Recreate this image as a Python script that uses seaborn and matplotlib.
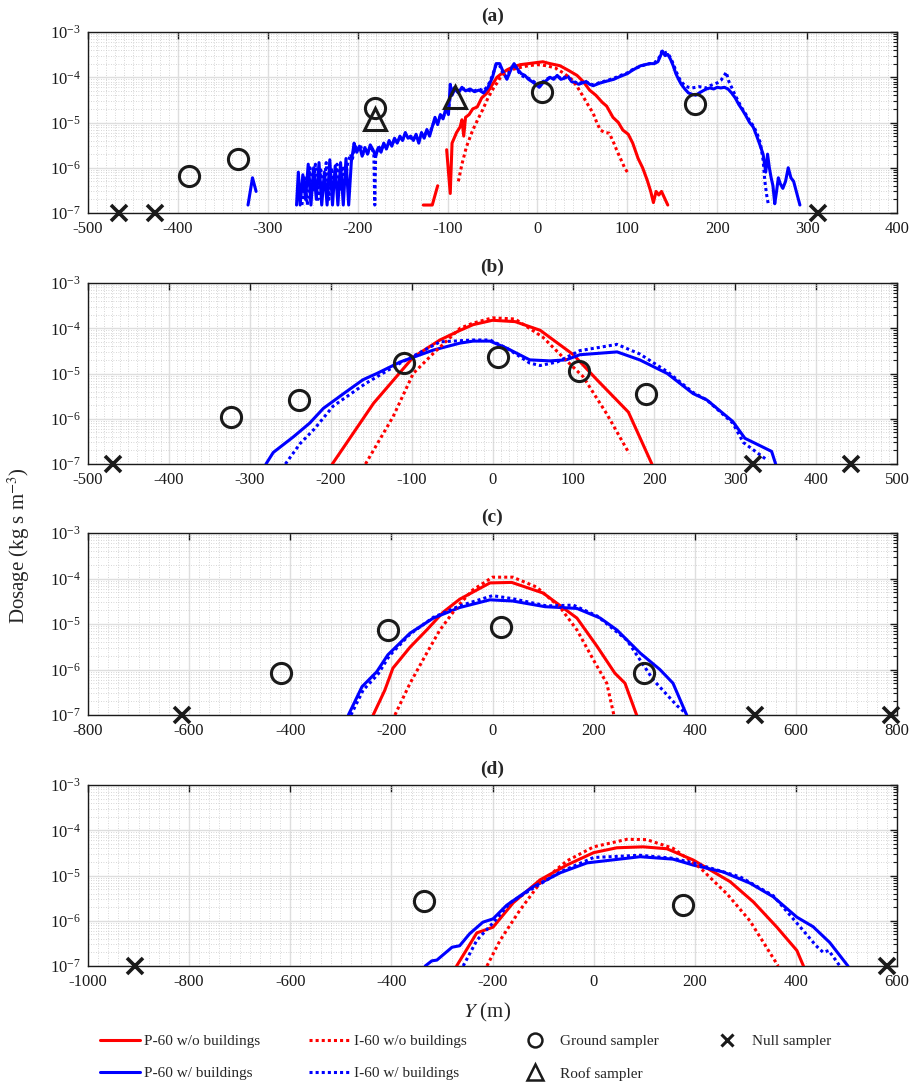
import numpy as np
import pandas as pd
import matplotlib
matplotlib.use("Agg")
import matplotlib.pyplot as plt
import seaborn as sns
from matplotlib.ticker import LogLocator, LogFormatterMathtext, MultipleLocator, NullFormatter
from matplotlib.lines import Line2D

sns.set_theme(style="white")
plt.rcParams["font.family"] = ["Liberation Serif", "DejaVu Serif"]
plt.rcParams["mathtext.fontset"] = "stix"
plt.rcParams["axes.unicode_minus"] = False

NAN = np.nan
SERIES = ["P-60 w/o buildings", "P-60 w/ buildings", "I-60 w/o buildings", "I-60 w/ buildings"]
COLORS = {"P-60 w/o buildings": "#ff0000", "I-60 w/o buildings": "#ff0000",
          "P-60 w/ buildings": "#0000ff", "I-60 w/ buildings": "#0000ff"}
DASHES = {"P-60 w/o buildings": "", "P-60 w/ buildings": "",
          "I-60 w/o buildings": (1, 1), "I-60 w/ buildings": (1, 1)}

# ---------------- Panel (a) ----------------
A_P60_WO_X = [-127, -117, -111, NAN, -101, -97, -95, -90, -86, -84, -82, -80, -76, -72, -67, -62, -56, -50, -45, -40,
              -34, -27, -19, -10, -2, 6, 14, 25, 35, 44, 51, 58, 65, 72, 77, 84, 90, 95, 101, 106, 112, 117, 122,
              126, 129, 132, 135, 138, 145]
A_P60_WO_D = [1.5e-7, 1.5e-7, 4e-7, NAN, 2.5e-6, 2.7e-7, 3.5e-6, 6e-6, 8e-6, 1.15e-5, 5e-6, 1.3e-5, 1.5e-5, 2e-5,
              2.2e-5, 3.5e-5, 4.5e-5, 7e-5, 1e-4, 1.2e-4, 1.45e-4, 1.7e-4, 1.9e-4, 2e-4, 2.1e-4, 2.2e-4, 2e-4, 1.8e-4,
              1.4e-4, 1.1e-4, 8e-5, 5.2e-5, 4e-5, 2.8e-5, 2.3e-5, 1.3e-5, 1e-5, 6.8e-6, 5.5e-6, 3.5e-6, 1.6e-6, 1e-6,
              5.4e-7, 3e-7, 1.7e-7, 3e-7, 2.5e-7, 3e-7, 1.5e-7]
A_I60_WO_X = [-88, -84, -79, -72, -66, -61, -55, -49, -44, -40, -32, -22, -10, 0, 10, 20, 30, 38, 44, 50, 56, 62,
              66, 70, 75, 80, 85, 88, 93, 97, 100]
A_I60_WO_D = [5e-7, 1.2e-6, 2.9e-6, 6.8e-6, 1.2e-5, 1.9e-5, 3.5e-5, 5.7e-5, 8e-5, 1.1e-4, 1.4e-4, 1.6e-4, 1.8e-4,
              1.9e-4, 1.8e-4, 1.6e-4, 1.2e-4, 9e-5, 6.3e-5, 4e-5, 2.5e-5, 1.6e-5, 1e-5, 6.8e-6, 6e-6, 5.8e-6,
              3.5e-6, 2.5e-6, 1.5e-6, 1e-6, 8e-7]
A_P60_W_X = [-322, -317, -313, NAN,
             -268, -266, -264, -261, -258, -255, -252, -249, -246, -243, -240, -237, -234, -231, -228, -225, -222,
             -219, -216, -213, -210, -207, -205,
             -204, -201, -198, -195, -192, -189, -186, -183, -180, -177, -174, -171, -168, -165, -162, -159, -156,
             -153, -150, -147, -144, -141, -138, -135, -132, -129, -126, -123, -120, -117, -114, -111, -108, -105,
             -102, -99, -97, -95, -92, -88, -84, -80, -75, -70, -65, -60, -55, -50, -46, -42, -38, -34, -30, -26,
             -22, -18, -14, -10, -6, -2, 2, 6, 10, 14, 18, 22, 26, 30, 34, 38, 42, 46, 50, 54, 58, 62, 66, 70, 75,
             80, 85, 90, 95, 100, 105, 110, 115, 120, 125, 130, 134, 137, 139, 142, 145, 148, 151, 154, 157, 160,
             164, 168, 172, 176, 180, 184, 188, 192, 196, 200, 204, 208, 212, 216, 220, 224, 228, 232, 236, 240,
             244, 248, 251, 254, 256, 258, 260, 262, 264, 266, 268, 270, 273, 276, 279, 282, 285, 288, 292]
A_P60_W_D = [1.5e-7, 6e-7, 3e-7, NAN,
             1.5e-7, 8e-7, 1.5e-7, 7e-7, 2e-7, 1.2e-6, 1.5e-7, 1e-6, 2e-7, 1.3e-6, 1.5e-7, 8e-7, 1.5e-7, 1.5e-6,
             1.5e-7, 1.1e-6, 1.5e-7, 1.3e-6, 1.5e-7, 1.6e-6, 1.5e-7, 1.4e-6, 2.5e-6,
             3.5e-6, 2.2e-6, 3e-6, 1.8e-6, 2.8e-6, 2e-6, 3.2e-6, 2.5e-6, 1.8e-6, 2.8e-6, 2.2e-6, 3.5e-6, 2.6e-6,
             4e-6, 3e-6, 4.5e-6, 3.5e-6, 5e-6, 4e-6, 6e-6, 4.5e-6, 5e-6, 4e-6, 5.5e-6, 3.5e-6, 6e-6, 4.5e-6, 7e-6,
             5e-6, 8e-6, 1.3e-5, 9e-6, 1.5e-5, 1.2e-5, 2e-5, 1.5e-5, 7e-5, 4e-5, 5.5e-5, 4.5e-5, 6e-5, 5e-5, 5.5e-5,
             4.8e-5, 5.2e-5, 4.5e-5, 6e-5, 1e-4, 2e-4, 2e-4, 1.3e-4, 9e-5, 1.4e-4, 2e-4, 1.5e-4, 1.2e-4, 1.1e-4,
             9e-5, 8e-5, 7e-5, 6e-5, 7.5e-5, 8.5e-5, 1e-4, 9e-5, 1.1e-4, 9e-5, 9.5e-5, 1.05e-4, 8e-5, 7.5e-5, 7e-5,
             7.5e-5, 8e-5, 7e-5, 6.5e-5, 7e-5, 7.5e-5, 8e-5, 8.5e-5, 9e-5, 1e-4, 1.1e-4, 1.2e-4, 1.4e-4, 1.6e-4,
             1.8e-4, 1.9e-4, 2e-4, 2e-4, 2.2e-4, 3e-4, 3.8e-4, 3e-4, 3.2e-4, 2.5e-4, 1.8e-4, 1.2e-4, 9e-5, 7e-5,
             5.5e-5, 4.5e-5, 4.2e-5, 4e-5, 4.5e-5, 5e-5, 5.5e-5, 5.8e-5, 5.5e-5, 6e-5, 5.8e-5, 6e-5, 5.5e-5, 4.5e-5,
             3.5e-5, 2.5e-5, 1.9e-5, 1.4e-5, 1e-5, 8e-6, 5e-6, 3e-6, 2e-6, 8e-7, 2e-6, 1e-6, 6e-7, 4e-7, 1.6e-7,
             3e-7, 6e-7, 4.5e-7, 3.5e-7, 5e-7, 1e-6, 6e-7, 5e-7, 3e-7, 1.5e-7]
A_I60_W_X = [-262, -259, -256, -253, -250, -247, -244, -241, -238, -235, -232, -229, -226, -223, -220, -217, -214,
             -211, -208, -206, -203, -200, -197, -194, -191, -188, -185, -182, -181, -180, -177, -174,
             -171, -168, -165, -162, -159, -156, -153, -150, -147, -144, -141, -138, -135, -132, -129, -126, -123,
             -120, -117, -114, -111, -108, -105, -102, -99, -96, -92, -88, -84, -80, -75, -70, -65, -60, -55, -50,
             -46, -42, -38, -34, -30, -26, -22, -18, -14, -10, -6, -2, 2, 6, 10, 14, 18, 22, 26, 30, 34, 38, 42,
             46, 50, 54, 58, 62, 66, 70, 75, 80, 85, 90, 95, 100, 105, 110, 115, 120, 125, 130, 134, 137, 139, 142,
             145, 148, 151, 154, 157, 160, 164, 168, 172, 176, 180, 184, 188, 192, 196, 200, 204, 208, 210, 213,
             216, 220, 224, 228, 232, 236, 240, 244, 248, 251, 253, 255, 257]
A_I60_W_D = [1.5e-7, 6e-7, 1.5e-7, 1e-6, 3e-7, 1.2e-6, 2e-7, 9e-7, 3e-7, 1.3e-6, 2e-7, 1e-6, 4e-7, 1.2e-6, 3e-7,
             1.1e-6, 5e-7, 1.3e-6, 2e-6, 1.5e-6, 3e-6, 2.5e-6, 3.2e-6, 2e-6, 2.8e-6, 2.2e-6, 3e-6, 2e-6,
             1.5e-7, 1.8e-6, 3e-6, 2.5e-6, 3.2e-6, 2.8e-6, 3.5e-6, 3.2e-6, 4.2e-6, 3.8e-6, 4.5e-6, 4.2e-6, 5.5e-6,
             5e-6, 4.5e-6, 5e-6, 4.5e-6, 4e-6, 5.5e-6, 5e-6, 6.5e-6, 5.5e-6, 8.5e-6, 1.1e-5, 1e-5, 1.4e-5, 1.3e-5,
             1.8e-5, 2e-5, 5e-5, 6e-5, 5e-5, 5.5e-5, 5.5e-5, 5e-5, 5e-5, 5.5e-5, 5e-5, 6.5e-5, 1.1e-4, 1.9e-4,
             1.8e-4, 1.2e-4, 1e-4, 1.5e-4, 1.9e-4, 1.4e-4, 1.1e-4, 1e-4, 9.5e-5, 8.5e-5, 7.5e-5, 6.5e-5, 8e-5, 9e-5,
             1e-4, 9.5e-5, 1.05e-4, 9.5e-5, 1e-4, 1e-4, 8.5e-5, 7.8e-5, 7.2e-5, 7.8e-5, 8e-5, 7.2e-5, 6.8e-5,
             7.2e-5, 7.8e-5, 8.2e-5, 8.8e-5, 9.5e-5, 1.05e-4, 1.15e-4, 1.25e-4, 1.45e-4, 1.6e-4, 1.75e-4, 1.9e-4,
             2e-4, 2.1e-4, 2.4e-4, 3.2e-4, 4e-4, 3.5e-4, 3.4e-4, 2.7e-4, 2e-4, 1.4e-4, 1e-4, 8e-5, 6.5e-5, 6e-5,
             5.8e-5, 6e-5, 6.2e-5, 6e-5, 5.8e-5, 6.5e-5, 7e-5, 7.5e-5, 8.5e-5, 1.1e-4, 1.3e-4, 8e-5, 6e-5, 4e-5,
             2.8e-5, 2e-5, 1.5e-5, 1.1e-5, 8.5e-6, 6e-6, 3.5e-6, 1.5e-6, 5e-7, 2.5e-7, 1.5e-7]
A_GROUND_X = [-388, -333, -181, 5, 175]
A_GROUND_D = [6.5e-7, 1.55e-6, 2.1e-5, 4.7e-5, 2.5e-5]
A_ROOF_X = [-181, -92]
A_ROOF_D = [1.2e-5, 3.6e-5]
A_NULL_X = [-466, -425, 312]

# ---------------- Panel (b) ----------------
B_P60_WO_X = [-198, -147, -98, -65, -40, -24, 0, 28, 59, 100, 129, 168, 197]
B_P60_WO_D = [1e-7, 2.2e-6, 2.3e-5, 5.5e-5, 9e-5, 1.2e-4, 1.5e-4, 1.4e-4, 9e-5, 2.6e-5, 7.3e-6, 1.4e-6, 1e-7]
B_I60_WO_X = [-157, -123, -98, -73, -40, -24, 0, 28, 62, 87, 112, 141, 169]
B_I60_WO_D = [1e-7, 1.1e-6, 1e-5, 2.8e-5, 1e-4, 1.3e-4, 1.7e-4, 1.6e-4, 6.4e-5, 2.3e-5, 8.5e-6, 1.3e-6, 1.7e-7]
B_P60_W_X = [-280, -271, -246, -226, -209, -184, -160, -143, -114, -73, -40, -24, -3, 18, 46, 71, 91, 108, 154,
             182, 216, 248, 265, 297, 312, 345, 350]
B_P60_W_D = [1e-7, 1.8e-7, 4e-7, 8e-7, 1.7e-6, 3.6e-6, 7.3e-6, 1e-5, 1.8e-5, 3.3e-5, 4.7e-5, 5.2e-5, 5.2e-5,
             3.6e-5, 2e-5, 1.9e-5, 2e-5, 2.6e-5, 3e-5, 2e-5, 1e-5, 3.6e-6, 2.6e-6, 8.7e-7, 3.7e-7, 1.9e-7, 1e-7]
B_I60_W_X = [-256, -238, -220, -197, -157, -114, -65, -40, -24, -3, 18, 46, 59, 80, 108, 154, 182, 216, 248, 265,
             297, 310, 340]
B_I60_W_D = [1e-7, 2.8e-7, 6e-7, 1.9e-6, 6e-6, 1.7e-5, 5e-5, 5.3e-5, 5.5e-5, 5.5e-5, 3.6e-5, 1.7e-5, 1.5e-5,
             1.8e-5, 3.2e-5, 4.4e-5, 2.7e-5, 1.1e-5, 3.8e-6, 2.6e-6, 8e-7, 3e-7, 1.2e-7]
B_GROUND_X = [-323, -239, -109, 7, 107, 190]
B_GROUND_D = [1.1e-6, 2.6e-6, 1.7e-5, 2.3e-5, 1.15e-5, 3.6e-6]
B_NULL_X = [-469, 322, 443]

# ---------------- Panel (c) ----------------
C_P60_WO_X = [-236, -213, -197, -163, -130, -98, -65, -5, 38, 100, 167, 207, 242, 262, 285]
C_P60_WO_D = [1e-7, 3.5e-7, 1.07e-6, 3.1e-6, 7.4e-6, 1.8e-5, 3.5e-5, 8e-5, 8.2e-5, 4.8e-5, 1.35e-5, 3.2e-6,
              8.3e-7, 5e-7, 1e-7]
C_I60_WO_X = [-193, -163, -130, -104, -71, -40, 0, 40, 87, 134, 167, 200, 226, 240]
C_I60_WO_D = [1e-7, 5e-7, 2.3e-6, 7.4e-6, 2.3e-5, 5.5e-5, 1.07e-4, 1.07e-4, 6.5e-5, 2.3e-5, 7.4e-6, 1.6e-6,
              5e-7, 1e-7]
C_P60_W_X = [-285, -258, -229, -207, -163, -117, -65, -5, 40, 104, 167, 213, 246, 292, 331, 357, 384]
C_P60_W_D = [1e-7, 4.2e-7, 8.9e-7, 2.1e-6, 6.3e-6, 1.35e-5, 2.3e-5, 3.4e-5, 3.2e-5, 2.4e-5, 2.2e-5, 1.35e-5,
             7.4e-6, 2.3e-6, 1e-6, 5e-7, 1e-7]
C_I60_W_X = [-280, -256, -226, -204, -163, -117, -65, 0, 40, 107, 160, 207, 266, 318, 365, 378]
C_I60_W_D = [1e-7, 3.5e-7, 8e-7, 2e-6, 6e-6, 1.4e-5, 2.5e-5, 4.2e-5, 3.6e-5, 2.5e-5, 2.6e-5, 1.5e-5, 4.4e-6,
             5.9e-7, 1.6e-7, 1.2e-7]
C_GROUND_X = [-418, -206, 17, 300]
C_GROUND_D = [8.3e-7, 7.4e-6, 8.6e-6, 8.3e-7]
C_NULL_X = [-614, 519, 788]

# ---------------- Panel (d) ----------------
D_P60_WO_X = [-271, -231, -199, -159, -106, -53, 0, 46, 98, 145, 197, 270, 316, 362, 402, 415]
D_P60_WO_D = [1e-7, 5.4e-7, 7.2e-7, 2.5e-6, 8e-6, 1.7e-5, 3.2e-5, 4.1e-5, 4.3e-5, 3.9e-5, 2.2e-5, 7.3e-6,
              2.6e-6, 7.3e-7, 2.2e-7, 1e-7]
D_I60_WO_X = [-211, -185, -146, -106, -53, 0, 66, 105, 157, 210, 264, 309, 365]
D_I60_WO_D = [1e-7, 3.7e-7, 1.7e-6, 6.8e-6, 2.1e-5, 4.3e-5, 6.3e-5, 6.2e-5, 4e-5, 1.5e-5, 3.9e-6, 1e-6, 1e-7]
D_P60_W_X = [-333, -320, -310, -280, -265, -245, -219, -199, -172, -120, -66, -13, 92, 157, 197, 256, 309, 355,
             402, 434, 467, 503]
D_P60_W_D = [1e-7, 1.3e-7, 1.35e-7, 2.6e-7, 2.8e-7, 5.2e-7, 9.3e-7, 1.1e-6, 2.2e-6, 5.6e-6, 1.15e-5, 1.9e-5,
             2.6e-5, 2.3e-5, 1.7e-5, 1.2e-5, 6.8e-6, 3.4e-6, 1.2e-6, 7.4e-7, 3.3e-7, 1e-7]
D_I60_W_X = [-258, -231, -199, -165, -120, -66, 0, 92, 157, 197, 290, 355, 408, 440, 454, 465, 487]
D_I60_W_D = [1e-7, 3.7e-7, 9e-7, 2.5e-6, 5.2e-6, 1.2e-5, 2.5e-5, 2.8e-5, 2.4e-5, 1.9e-5, 9.3e-6, 3.6e-6, 7.4e-7,
             2.8e-7, 2e-7, 2.2e-7, 1e-7]
D_GROUND_X = [-335, 177]
D_GROUND_D = [2.8e-6, 2.2e-6]
D_NULL_X = [-907, 580]

PANELS = [
    dict(title="(a)", xlim=(-500, 400), step=100,
         series={SERIES[0]: (A_P60_WO_X, A_P60_WO_D), SERIES[1]: (A_P60_W_X, A_P60_W_D),
                 SERIES[2]: (A_I60_WO_X, A_I60_WO_D), SERIES[3]: (A_I60_W_X, A_I60_W_D)},
         ground=(A_GROUND_X, A_GROUND_D), roof=(A_ROOF_X, A_ROOF_D), null=A_NULL_X),
    dict(title="(b)", xlim=(-500, 500), step=100,
         series={SERIES[0]: (B_P60_WO_X, B_P60_WO_D), SERIES[1]: (B_P60_W_X, B_P60_W_D),
                 SERIES[2]: (B_I60_WO_X, B_I60_WO_D), SERIES[3]: (B_I60_W_X, B_I60_W_D)},
         ground=(B_GROUND_X, B_GROUND_D), roof=None, null=B_NULL_X),
    dict(title="(c)", xlim=(-800, 800), step=200,
         series={SERIES[0]: (C_P60_WO_X, C_P60_WO_D), SERIES[1]: (C_P60_W_X, C_P60_W_D),
                 SERIES[2]: (C_I60_WO_X, C_I60_WO_D), SERIES[3]: (C_I60_W_X, C_I60_W_D)},
         ground=(C_GROUND_X, C_GROUND_D), roof=None, null=C_NULL_X),
    dict(title="(d)", xlim=(-1000, 600), step=200,
         series={SERIES[0]: (D_P60_WO_X, D_P60_WO_D), SERIES[1]: (D_P60_W_X, D_P60_W_D),
                 SERIES[2]: (D_I60_WO_X, D_I60_WO_D), SERIES[3]: (D_I60_W_X, D_I60_W_D)},
         ground=(D_GROUND_X, D_GROUND_D), roof=None, null=D_NULL_X),
]


def build_df(series):
    rows = []
    seg = 0
    for name in SERIES:
        xs, ds = series[name]
        for x, d in zip(xs, ds):
            if np.isnan(x):
                seg += 1
                continue
            rows.append((name, seg, x, d))
        seg += 1
    return pd.DataFrame(rows, columns=["series", "seg", "Y", "D"])


W, H = 918, 1083
fig = plt.figure(figsize=(W / 100, H / 100), dpi=100)
L, R = 88, 897
boxes = [(32, 213), (283, 464), (533, 715), (785, 966)]

for p, (top, bot) in zip(PANELS, boxes):
    ax = fig.add_axes([L / W, 1 - bot / H, (R - L) / W, (bot - top) / H])
    ax.set_yscale("log")
    df = build_df(p["series"])
    sns.lineplot(data=df, x="Y", y="D", hue="series", style="series", units="seg", estimator=None,
                 sort=False, palette=COLORS, dashes=DASHES, linewidth=2.2, legend=False, ax=ax, zorder=3)
    gx, gd = p["ground"]
    ax.plot(gx, gd, ls="none", marker="o", ms=14.5, mfc="none", mec="k", mew=2.2, zorder=5, clip_on=False)
    if p["roof"] is not None:
        rx, rd = p["roof"]
        ax.plot(rx, rd, ls="none", marker="^", ms=16, mfc="none", mec="k", mew=2.2, zorder=5, clip_on=False)
    ax.plot(p["null"], [1e-7] * len(p["null"]), ls="none", marker="x", ms=11, mec="k", mew=2.6, zorder=6,
            clip_on=False)

    ax.set_xlim(*p["xlim"])
    ax.set_ylim(1e-7, 1e-3)
    ax.xaxis.set_major_locator(MultipleLocator(p["step"]))
    ax.xaxis.set_minor_locator(MultipleLocator(p["step"] / 10))
    ax.yaxis.set_major_locator(LogLocator(base=10, numticks=10))
    ax.yaxis.set_minor_locator(LogLocator(base=10, subs=np.arange(2, 10), numticks=100))
    ax.yaxis.set_major_formatter(LogFormatterMathtext())
    ax.yaxis.set_minor_formatter(NullFormatter())
    ax.grid(which="major", color="#dedede", lw=1.0, ls="-", zorder=0)
    ax.grid(which="minor", color="#cacaca", lw=0.6, ls=(0, (1, 2)), zorder=0)
    ax.set_axisbelow(True)
    ax.tick_params(which="both", direction="in", top=True, right=True, colors="k")
    ax.tick_params(which="major", length=5, width=1, labelsize=12)
    ax.tick_params(axis="x", which="major", pad=6)
    ax.tick_params(axis="y", which="major", pad=5)
    ax.tick_params(axis="y", which="minor", length=3, width=0.8)
    ax.tick_params(axis="x", which="minor", length=0)
    for s in ax.spines.values():
        s.set_color("k")
        s.set_linewidth(1.0)
    ax.set_xlabel("")
    ax.set_ylabel("")
    ax.set_title(p["title"], fontweight="bold", fontsize=14, pad=8)

fig.text(0.02, 1 - 546 / H, "Dosage (kg s m$^{-3}$)", rotation=90, ha="center", va="center", fontsize=15)
fig.text(0.531, 1 - 1012 / H, "$Y$ (m)", ha="center", va="center", fontsize=15)

handles = [
    Line2D([], [], color="#ff0000", lw=2.2, label="P-60 w/o buildings"),
    Line2D([], [], color="#0000ff", lw=2.2, label="P-60 w/ buildings"),
    Line2D([], [], color="#ff0000", lw=2.2, ls=(0, (1, 1)), label="I-60 w/o buildings"),
    Line2D([], [], color="#0000ff", lw=2.2, ls=(0, (1, 1)), label="I-60 w/ buildings"),
    Line2D([], [], ls="none", marker="o", ms=10, mfc="none", mec="k", mew=1.8, label="Ground sampler"),
    Line2D([], [], ls="none", marker="^", ms=11, mfc="none", mec="k", mew=1.8, label="Roof sampler"),
    Line2D([], [], ls="none", marker="x", ms=8, mec="k", mew=2.2, label="Null sampler"),
]
fig.legend(handles=handles, ncol=4, loc="upper center", bbox_to_anchor=(0.507, 1 - 1024 / H), frameon=False,
           fontsize=11, handlelength=2.6, handletextpad=0.3, columnspacing=3.2, labelspacing=1.2,
           borderpad=0.2)

fig.savefig("out.png", dpi=100)
